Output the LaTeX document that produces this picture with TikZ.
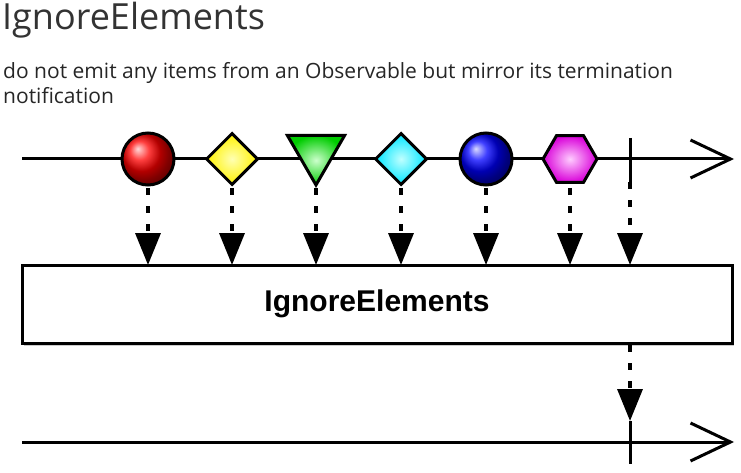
\documentclass[tikz,border=0pt]{standalone}
\usepackage{fontspec}
\setmainfont{Open Sans}
\newfontfamily\boxfont{Liberation Sans}
\usetikzlibrary{arrows.meta,shapes.geometric,shadows,positioning}
\tikzset{
  timeline/.style={line width=3pt,-{Straight Barb[length=40pt,width=38pt,line width=3pt]}},
  stopmark/.style={line width=3pt},
  emitarrow/.style={line width=3.5pt,dash pattern=on 7pt off 11pt,-{Triangle[length=32pt,width=25pt,sep=0pt]}},
  item/.style={draw,line width=3pt,inner sep=0pt,minimum size=52pt},
  opbox/.style={draw,line width=3pt,fill=white,minimum width=710pt,minimum height=78pt,
    drop shadow={shadow xshift=2pt,shadow yshift=-3pt,opacity=0.4}}
}
\begin{document}
\begin{tikzpicture}[x=1pt,y=-1pt]
\useasboundingbox (0,0) rectangle (741,473);
% headings
\node[anchor=west,inner sep=0pt,font=\fontsize{36}{40}\selectfont,text=black!80] (title) at (2,20) {IgnoreElements};
\node[anchor=north west,inner sep=0pt,align=left,font=\fontsize{21}{25}\selectfont,text=black!85] (desc) at (3,62)
  {do not emit any items from an Observable but mirror its termination\\notification};
% source line
\coordinate (srcL) at (22,159);
\coordinate (srcR) at (734,159);
\draw[timeline] (srcL) -- (srcR);
\node[item,circle,ball color=red,minimum size=52pt] (red) at (148,159) {};
\node[item,diamond,inner color=yellow!30,outer color=yellow!90!orange,minimum size=52pt] (yellow) at (232,159) {};
\node[item,regular polygon,regular polygon sides=3,shape border rotate=180,inner color=green!20,outer color=green!80!black,minimum size=66pt] (green) at (316,152) {};
\node[item,diamond,inner color=cyan!25,outer color=cyan!90!blue,minimum size=52pt] (cyan) at (401,159) {};
\node[item,circle,ball color=blue,minimum size=52pt] (blue) at (486,159) {};
\node[item,regular polygon,regular polygon sides=6,inner color=magenta!20,outer color=magenta!85!black,minimum size=54pt] (magenta) at (570,159) {};
\coordinate (tickT) at (630,138);
\coordinate (tickB) at (630,182);
\draw[stopmark] (tickT) -- (tickB);
% operator
\node[opbox,font={\boxfont\bfseries\fontsize{30}{34}\selectfont}] (op) at (377,304) {IgnoreElements};
\foreach \n/\x in {red/148,yellow/232,green/316,cyan/401,blue/486,magenta/570}
  \draw[emitarrow] (\x,188) -- (\x,265);
\draw[emitarrow] (tickB) -- (630,265);
% result line
\coordinate (resL) at (22,442);
\coordinate (resR) at (734,442);
\draw[timeline] (resL) -- (resR);
\coordinate (endT) at (630,421);
\coordinate (endB) at (630,464);
\draw[stopmark] (endT) -- (endB);
\draw[emitarrow] (630,345) -- (endT);
\end{tikzpicture}
\end{document}
